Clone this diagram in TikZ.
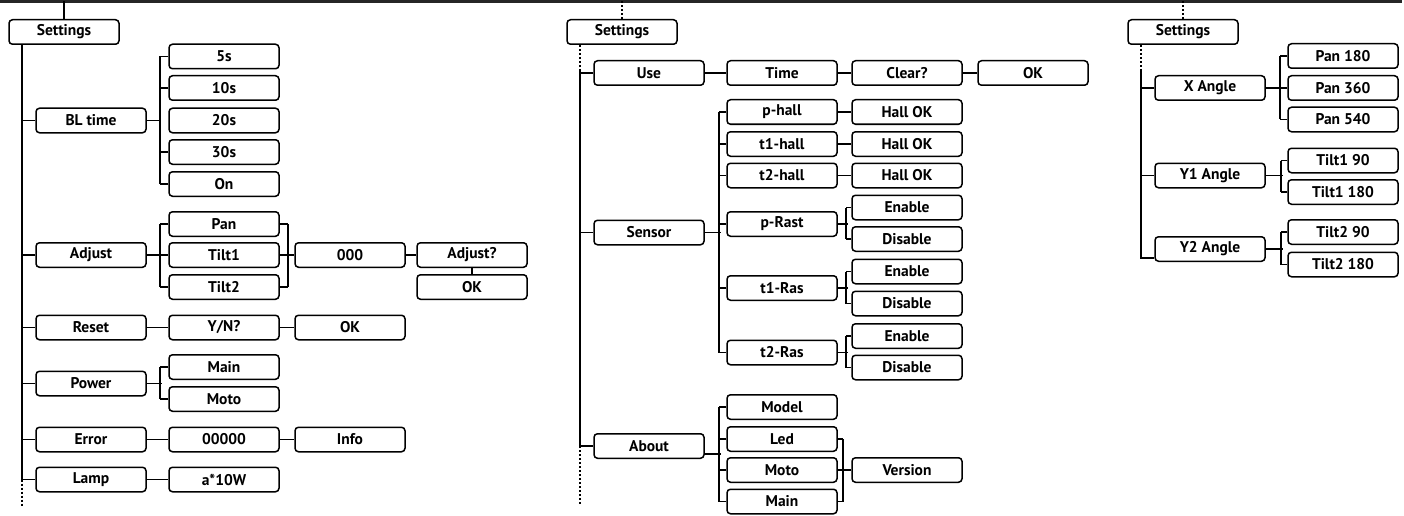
\documentclass[tikz,border=0pt]{standalone}
\usepackage{fontspec}
\setmainfont{PT Sans}
\usepackage{tikz}
\usetikzlibrary{calc}
\tikzset{bx/.style={draw,line width=1.5pt,rounded corners=3.5pt,minimum width=110pt,minimum height=24.5pt,inner sep=0pt,font=\fontsize{15.5}{16}\selectfont\bfseries}}
\tikzset{ln/.style={line width=1.6pt}}
\tikzset{dl/.style={line width=1.6pt,dash pattern=on 2pt off 2pt}}

\begin{document}
\begin{tikzpicture}[x=1pt,y=-1pt]
            \useasboundingbox (0,0) rectangle (1404,516);
            \draw[line width=3pt,black!85] (0,2) -- (1402,2);
            % left tree
            \node[bx] (set1) at (64,32) {Settings};
            \node[bx] (bl) at (91,120.5) {BL time};
            \node[bx] (adj) at (91,255) {Adjust};
            \node[bx] (rst) at (91,327.5) {Reset};
            \node[bx] (pwr) at (91,383.5) {Power};
            \node[bx] (err) at (91,439.5) {Error};
            \node[bx] (lmp) at (91,479.5) {Lamp};
            \node[bx] (s5) at (224,56.5) {5s};
            \node[bx] (s10) at (224,88) {10s};
            \node[bx] (s20) at (224,120.5) {20s};
            \node[bx] (s30) at (224,152) {30s};
            \node[bx] (on) at (224,184) {On};
            \node[bx] (pan) at (224,224) {Pan};
            \node[bx] (tla) at (224,255) {Tilt1};
            \node[bx] (tlb) at (224,287) {Tilt2};
            \node[bx] (yn) at (224,327.5) {Y/N?};
            \node[bx] (pmain) at (224,367) {Main};
            \node[bx] (pmoto) at (224,399) {Moto};
            \node[bx] (ecode) at (224,439.5) {00000};
            \node[bx] (watt) at (224,479.5) {a*10W};
            \node[bx] (zero) at (350,255) {000};
            \node[bx] (rok) at (350,327.5) {OK};
            \node[bx] (info) at (350,439.5) {Info};
            \node[bx] (adjq) at (472,255) {Adjust?};
            \node[bx] (aok) at (472,287) {OK};
            \draw[ln] (set1.north) -- ++(0,-18);
            \draw[ln] ([xshift=14pt]set1.south west) |- (lmp.west);
            \draw[dl] ($(lmp.west)+(-13,0)$) -- ++(0,26);
            \foreach \n in {bl,adj,rst,pwr,err}
              \draw[ln] (\n.west) -- ++(-13,0);
            \draw[ln] (bl.east) -- ($(s20.west)+(-8,0)$);
            \draw[ln] ($(s5.west)+(-8,0)$) -- ($(on.west)+(-8,0)$);
            \foreach \n in {s5,s10,s30,on}
              \draw[ln] (\n.west) -- ++(-8,0);
            \draw[ln] (adj.east) -- (tla.west);
            \draw[ln] ($(pan.west)+(-8,0)$) -- ($(tlb.west)+(-8,0)$);
            \draw[ln] (pan.west) -- ++(-8,0) (tlb.west) -- ++(-8,0);
            \draw[ln] (tla.east) -- (zero.west);
            \draw[ln] ($(pan.east)+(8,0)$) -- ($(tlb.east)+(8,0)$);
            \draw[ln] (pan.east) -- ++(8,0) (tlb.east) -- ++(8,0);
            \draw[ln] (zero.east) -- (adjq.west);
            \draw[ln] (adjq.south) -- (aok.north);
            \draw[ln] (rst.east) -- (yn.west);
            \draw[ln] (yn.east) -- (rok.west);
            \draw[ln] (pwr.east) -- ++(15,0);
            \draw[ln] ($(pmain.west)+(-8,0)$) -- ($(pmoto.west)+(-8,0)$);
            \draw[ln] (pmain.west) -- ++(-8,0) (pmoto.west) -- ++(-8,0);
            \draw[ln] (err.east) -- (ecode.west);
            \draw[ln] (ecode.east) -- (info.west);
            \draw[ln] (lmp.east) -- (watt.west);
            % middle tree
            \node[bx] (set2) at (622,32) {Settings};
            \node[bx] (use) at (649,73) {Use};
            \node[bx] (sens) at (649,232.5) {Sensor};
            \node[bx] (about) at (649,446) {About};
            \node[bx] (time) at (782,73) {Time};
            \node[bx] (ph) at (782,112) {p-hall};
            \node[bx] (tah) at (782,144) {t1-hall};
            \node[bx] (tbh) at (782,175.5) {t2-hall};
            \node[bx] (pr) at (782,224) {p-Rast};
            \node[bx] (tar) at (782,288) {t1-Ras};
            \node[bx] (tbr) at (782,352.5) {t2-Ras};
            \node[bx] (model) at (782,407) {Model};
            \node[bx] (led) at (782,439) {Led};
            \node[bx] (moto) at (782,470) {Moto};
            \node[bx] (main) at (782,501.5) {Main};
            \node[bx] (clr) at (907,73) {Clear?};
            \node[bx] (hok1) at (907,112) {Hall OK};
            \node[bx] (hok2) at (907,144) {Hall OK};
            \node[bx] (hok3) at (907,175.5) {Hall OK};
            \node[bx] (en1) at (907,207.5) {Enable};
            \node[bx] (dis1) at (907,239) {Disable};
            \node[bx] (en2) at (907,271.5) {Enable};
            \node[bx] (dis2) at (907,303.5) {Disable};
            \node[bx] (en3) at (907,336) {Enable};
            \node[bx] (dis3) at (907,367.5) {Disable};
            \node[bx] (ver) at (907,470) {Version};
            \node[bx] (uok) at (1033,73) {OK};
            \draw[dl] (set2.north) -- ++(0,-18);
            \draw[dl] ([xshift=14pt]set2.south west) -- ++(0,26) coordinate (sp2);
            \draw[ln] (sp2) |- (about.west);
            \draw[dl] ($(about.west)+(-13,0)$) -- ++(0,59);
            \draw[ln] (use.west) -- ++(-13,0) (sens.west) -- ++(-13,0);
            \draw[ln] (use.east) -- (time.west);
            \draw[ln] (time.east) -- (clr.west);
            \draw[ln] (clr.east) -- (uok.west);
            \draw[ln] (sens.east) -- ++(16,0);
            \draw[ln] ($(ph.west)+(-7,0)$) -- ($(tbr.west)+(-7,0)$);
            \foreach \n in {ph,tah,tbh,pr,tar,tbr}
              \draw[ln] (\n.west) -- ++(-7,0);
            \draw[ln] (ph.east) -- (hok1.west);
            \draw[ln] (tah.east) -- (hok2.west);
            \draw[ln] (tbh.east) -- (hok3.west);
            \foreach \r/\e/\d in {pr/en1/dis1,tar/en2/dis2,tbr/en3/dis3}{
              \draw[ln] (\r.east) -- ++(10,0);
              \draw[ln] ($(\e.west)+(-5,0)$) -- ($(\d.west)+(-5,0)$);
              \draw[ln] (\e.west) -- ++(-5,0) (\d.west) -- ++(-5,0);
            }
            \draw[ln] ([yshift=-8pt]about.east) -- ++(16,0);
            \draw[ln] ($(model.west)+(-7,0)$) -- ($(main.west)+(-7,0)$);
            \foreach \n in {model,led,moto,main}
              \draw[ln] (\n.west) -- ++(-7,0);
            \draw[ln] ($(led.east)+(5,0)$) -- ($(main.east)+(5,0)$);
            \draw[ln] (led.east) -- ++(5,0) (main.east) -- ++(5,0);
            \draw[ln] (moto.east) -- (ver.west);
            % right tree
            \node[bx] (set3) at (1183,32) {Settings};
            \node[bx] (xa) at (1210,88) {X Angle};
            \node[bx] (ya) at (1210,175.5) {Y1 Angle};
            \node[bx] (yb) at (1210,249) {Y2 Angle};
            \node[bx] (p180) at (1343,56) {Pan 180};
            \node[bx] (p360) at (1343,88) {Pan 360};
            \node[bx] (p540) at (1343,119.5) {Pan 540};
            \node[bx] (ta90) at (1343,160.5) {Tilt1 90};
            \node[bx] (ta180) at (1343,192) {Tilt1 180};
            \node[bx] (tb90) at (1343,232) {Tilt2 90};
            \node[bx] (tb180) at (1343,264.5) {Tilt2 180};
            \draw[dl] (set3.north) -- ++(0,-18);
            \draw[dl] ([xshift=14pt]set3.south west) -- ++(0,26) coordinate (sp3);
            \draw[ln] (sp3) |- ([yshift=-9pt]yb.west);
            \draw[ln] (xa.west) -- ++(-13,0) (ya.west) -- ++(-13,0);
            \draw[ln] (xa.east) -- (p360.west);
            \draw[ln] ($(p180.west)+(-7,0)$) -- ($(p540.west)+(-7,0)$);
            \draw[ln] (p180.west) -- ++(-7,0) (p540.west) -- ++(-7,0);
            \draw[ln] (ya.east) -- ++(17,0);
            \draw[ln] ($(ta90.west)+(-6,0)$) -- ($(ta180.west)+(-6,0)$);
            \draw[ln] (ta90.west) -- ++(-6,0) (ta180.west) -- ++(-6,0);
            \draw[ln] (yb.east) -- ++(17,0);
            \draw[ln] ($(tb90.west)+(-6,0)$) -- ($(tb180.west)+(-6,0)$);
            \draw[ln] (tb90.west) -- ++(-6,0) (tb180.west) -- ++(-6,0);
          \end{tikzpicture}
\end{document}
